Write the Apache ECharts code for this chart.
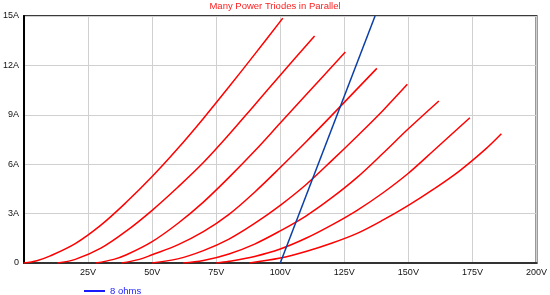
<!DOCTYPE html>
<html>
<head>
<meta charset="utf-8">
<script src="https://cdn.jsdelivr.net/npm/echarts@6/dist/echarts.min.js"></script>
<style>
html,body{margin:0;padding:0;background:#fff;}
#chart{width:550px;height:295px;}
</style>
</head>
<body>
<div id="chart"></div>
<script>
// Plate voltage (V) and plate current (A), one pair of arrays per curve
const curve1V = [0, 5, 10, 20, 30, 40, 50, 60, 70, 80, 90, 101];
const curve1I = [0, 0.14, 0.42, 1.18, 2.3, 3.7, 5.25, 6.95, 8.78, 10.7, 12.67, 14.87];
const curve2V = [13, 20, 30, 40, 50, 60, 70, 80, 90, 100, 113.4];
const curve2I = [0, 0.22, 0.9, 1.95, 3.2, 4.6, 6.1, 7.8, 9.6, 11.4, 13.79];
const curve3V = [28, 35, 40, 50, 60, 70, 80, 90, 100, 110, 125.4];
const curve3I = [0, 0.22, 0.5, 1.3, 2.4, 3.7, 5.2, 6.8, 8.5, 10.2, 12.82];
const curve4V = [38, 45, 50, 60, 70, 80, 90, 100, 110, 120, 137.7];
const curve4I = [0, 0.22, 0.5, 1.1, 1.9, 2.95, 4.3, 5.8, 7.35, 8.95, 11.82];
const curve5V = [50, 60, 70, 80, 90, 100, 110, 120, 130, 140, 149.6];
const curve5I = [0, 0.25, 0.75, 1.45, 2.4, 3.5, 4.75, 6.2, 7.7, 9.25, 10.85];
const curve6V = [62, 70, 80, 90, 100, 110, 120, 130, 140, 150, 161.9];
const curve6I = [0, 0.15, 0.55, 1.15, 1.95, 2.85, 3.95, 5.2, 6.65, 8.15, 9.84];
const curve7V = [75, 80, 90, 100, 110, 120, 130, 140, 150, 160, 174];
const curve7I = [0, 0.1, 0.4, 0.85, 1.5, 2.3, 3.2, 4.25, 5.45, 6.85, 8.82];
const curve8V = [88, 100, 110, 120, 130, 140, 150, 160, 170, 180, 186.3];
const curve8I = [0, 0.3, 0.7, 1.2, 1.8, 2.6, 3.5, 4.5, 5.6, 6.9, 7.85];
// 8 ohm load line
const loadV = [100, 137];
const loadI = [0, 15];
// axis ticks
const xTicks = [0, 25, 50, 75, 100, 125, 150, 175, 200];
const yTicks = [0, 3, 6, 9, 12, 15];

const titleText = 'Many Power Triodes in Parallel';
const loadName = '8 ohms';

const curves = [
  [curve1V, curve1I], [curve2V, curve2I], [curve3V, curve3I], [curve4V, curve4I],
  [curve5V, curve5I], [curve6V, curve6I], [curve7V, curve7I], [curve8V, curve8I]
];
const zip = (a, b) => a.map((v, i) => [v, b[i]]);

const font = 'Liberation Sans, Arial, sans-serif';
const series = curves.map((c, i) => ({
  name: 'c' + (i + 1),
  type: 'line',
  data: zip(c[0], c[1]),
  smooth: 0.35,
  symbol: 'none',
  lineStyle: { color: '#ff0000', width: 1.5 },
  itemStyle: { color: '#ff0000' },
  silent: true,
  z: 3
}));
series.push({
  name: loadName,
  type: 'line',
  data: zip(loadV, loadI),
  symbol: 'none',
  lineStyle: { color: '#0b3ea8', width: 1.5 },
  itemStyle: { color: '#0b3ea8' },
  z: 4
});

const chart = echarts.init(document.getElementById('chart'), null, { renderer: 'canvas' });
chart.setOption({
  animation: false,
  backgroundColor: '#ffffff',
  title: {
    text: titleText,
    left: 'center',
    top: 0,
    padding: [1, 0, 0, 0],
    textStyle: { color: '#ff2020', fontSize: 9.5, fontWeight: 'normal', fontFamily: font }
  },
  legend: {
    data: [{ name: loadName, icon: 'rect', itemStyle: { color: '#1a1aff' } }],
    left: 84,
    top: 286,
    padding: 0,
    itemWidth: 21,
    itemHeight: 2,
    textStyle: { color: '#2222ff', fontSize: 9.5, fontFamily: font }
  },
  grid: {
    left: 22, right: 13, top: 16, bottom: 32,
    show: true, borderColor: '#3a3a3a', borderWidth: 2
  },
  xAxis: {
    type: 'value',
    min: xTicks[0], max: xTicks[xTicks.length - 1], interval: xTicks[1] - xTicks[0],
    axisLine: { show: true, onZero: false, lineStyle: { color: '#333', width: 2 } },
    axisTick: { show: false },
    splitLine: { show: true, lineStyle: { color: '#d0d0d0', width: 1 } },
    axisLabel: {
      showMinLabel: false,
      margin: 5,
      color: '#111', fontSize: 9, fontFamily: font,
      formatter: v => v + 'V'
    }
  },
  yAxis: {
    type: 'value',
    min: yTicks[0], max: yTicks[yTicks.length - 1], interval: yTicks[1] - yTicks[0],
    axisLine: { show: true, onZero: false, lineStyle: { color: '#000', width: 2 } },
    axisTick: { show: false },
    splitLine: { show: true, lineStyle: { color: '#d0d0d0', width: 1 } },
    axisLabel: {
      margin: 5,
      color: '#111', fontSize: 9, fontFamily: font,
      formatter: v => (v === 0 ? '0' : v + 'A')
    }
  },
  series: series
});
</script>
</body>
</html>
